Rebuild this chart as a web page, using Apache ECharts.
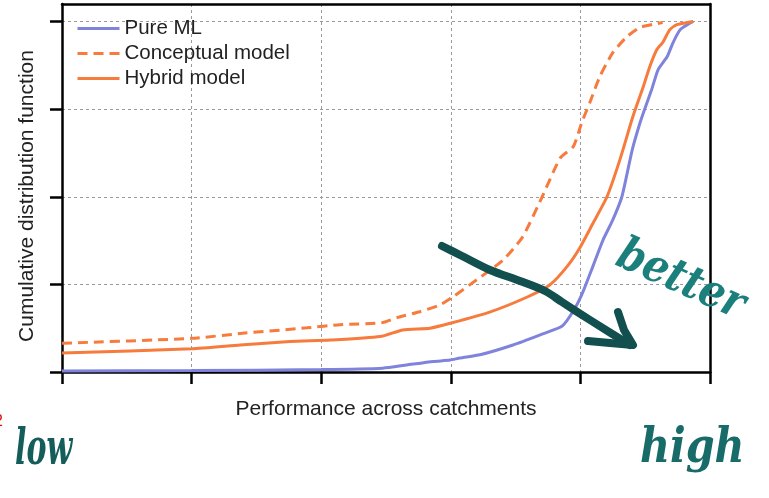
<!DOCTYPE html>
<html>
<head>
<meta charset="utf-8">
<script src="https://cdn.jsdelivr.net/npm/echarts@6/dist/echarts.min.js"></script>
<style>
  html, body { margin: 0; padding: 0; background: #fff; }
  #chart { width: 769px; height: 498px; }
</style>
</head>
<body>
<div id="chart"></div>
<script>
// Cumulative distribution of model performance across catchments
const seriesNames = ['Pure ML', 'Conceptual model', 'Hybrid model'];

const pureMlX = [0, 0.2, 0.4, 0.495, 0.532, 0.573, 0.599, 0.614, 0.645, 0.696, 0.738, 0.772, 0.789, 0.802, 0.819, 0.835, 0.85, 0.864, 0.88, 0.892, 0.899, 0.91, 0.92, 0.934, 0.943, 0.954, 0.965, 0.974];
const pureMlY = [0.003, 0.004, 0.007, 0.011, 0.02, 0.03, 0.034, 0.04, 0.049, 0.077, 0.106, 0.131, 0.174, 0.22, 0.3, 0.377, 0.434, 0.5, 0.634, 0.711, 0.749, 0.806, 0.863, 0.9, 0.94, 0.977, 0.991, 1.0];

const conceptualX = [0, 0.2, 0.282, 0.378, 0.429, 0.495, 0.517, 0.552, 0.583, 0.603, 0.64, 0.681, 0.711, 0.741, 0.769, 0.789, 0.802, 0.815, 0.83, 0.85, 0.872, 0.892, 0.918, 0.927];
const conceptualY = [0.082, 0.096, 0.111, 0.126, 0.135, 0.141, 0.155, 0.172, 0.191, 0.214, 0.263, 0.32, 0.386, 0.5, 0.611, 0.643, 0.711, 0.771, 0.843, 0.911, 0.957, 0.983, 0.994, 0.997];

const hybridX = [0, 0.2, 0.275, 0.352, 0.414, 0.491, 0.526, 0.568, 0.599, 0.66, 0.718, 0.753, 0.779, 0.799, 0.819, 0.841, 0.861, 0.881, 0.897, 0.907, 0.918, 0.927, 0.938, 0.949, 0.965, 0.974];
const hybridY = [0.054, 0.066, 0.077, 0.087, 0.091, 0.101, 0.12, 0.125, 0.139, 0.171, 0.214, 0.249, 0.3, 0.354, 0.423, 0.5, 0.606, 0.729, 0.814, 0.871, 0.92, 0.94, 0.977, 0.991, 0.997, 1.0];

const xTicks = [0, 0.2, 0.4, 0.6, 0.8, 1.0];
const yTicks = [0, 0.25, 0.5, 0.75, 1.0];
const yTop = 1.05;

const pair = (xs, ys) => xs.map((x, i) => [x, ys[i]]);

const BLUE = '#7f83dc';
const ORANGE = '#f77b3c';
const INK = '#124f4f';
const FONT = '"Liberation Sans", Arial, sans-serif';
const HAND = '"DejaVu Serif", serif';

const chart = echarts.init(document.getElementById('chart'), null, { renderer: 'canvas' });

const frameLine = { show: true, onZero: false, lineStyle: { color: '#000', width: 2.5 } };
const gridLines = { show: true, lineStyle: { color: '#9a9a9a', width: 1, type: [3, 3] } };
const nameStyle = { fontFamily: FONT, fontSize: 21, color: '#222' };

chart.setOption({
  animation: false,
  backgroundColor: '#fff',
  grid: { left: 62, right: 59, top: 4, bottom: 126 },
  legend: {
    orient: 'vertical',
    left: 71, top: 13,
    itemWidth: 42, itemHeight: 17, itemGap: 4,
    itemStyle: { opacity: 0 },
    lineStyle: { width: 3 },
    textStyle: { fontFamily: FONT, fontSize: 20.5, color: '#222' },
    data: seriesNames
  },
  xAxis: [
    {
      type: 'value', min: xTicks[0], max: xTicks[xTicks.length - 1], interval: 0.2,
      name: 'Performance across catchments', nameLocation: 'middle', nameGap: 27,
      nameTextStyle: nameStyle,
      axisLine: frameLine,
      axisTick: { show: true, length: 12, lineStyle: { color: '#000', width: 2.5 } },
      axisLabel: { show: false },
      splitLine: gridLines
    },
    {
      type: 'value', position: 'top', min: xTicks[0], max: xTicks[xTicks.length - 1],
      axisLine: frameLine, axisTick: { show: false }, axisLabel: { show: false }, splitLine: { show: false }
    }
  ],
  yAxis: [
    {
      type: 'value', min: yTicks[0], max: yTop, interval: 0.25,
      name: 'Cumulative distribution function', nameLocation: 'middle', nameGap: 24,
      nameTextStyle: Object.assign({ padding: [0, 16, 0, 0] }, nameStyle),
      axisLine: frameLine,
      axisTick: { show: true, length: 12, customValues: yTicks, lineStyle: { color: '#000', width: 2.5 } },
      axisLabel: { show: false },
      splitLine: gridLines
    },
    {
      type: 'value', position: 'right', min: yTicks[0], max: yTop,
      axisLine: frameLine, axisTick: { show: false }, axisLabel: { show: false }, splitLine: { show: false }
    }
  ],
  series: [
    {
      name: seriesNames[0], type: 'line', data: pair(pureMlX, pureMlY),
      symbol: 'none', smooth: 0.2, z: 3,
      lineStyle: { color: BLUE, width: 3 }, itemStyle: { color: BLUE }
    },
    {
      name: seriesNames[1], type: 'line', data: pair(conceptualX, conceptualY),
      symbol: 'none', smooth: 0.2, z: 3,
      lineStyle: { color: ORANGE, width: 3, type: [10, 6] }, itemStyle: { color: ORANGE }
    },
    {
      name: seriesNames[2], type: 'line', data: pair(hybridX, hybridY),
      symbol: 'none', smooth: 0.2, z: 3,
      lineStyle: { color: ORANGE, width: 3 }, itemStyle: { color: ORANGE }
    }
  ],
  graphic: [
    // hand-drawn arrow pointing towards better performance
    {
      type: 'polyline', z: 10,
      shape: { points: [[442, 246], [462, 256], [490, 270], [520, 281], [545, 291], [562, 302], [590, 320], [630, 345]], smooth: 0.3 },
      style: { stroke: INK, lineWidth: 8, lineCap: 'round', lineJoin: 'round', fill: null }
    },
    {
      type: 'polyline', z: 10,
      shape: { points: [[618, 312], [624, 330], [633, 345], [610, 343], [588, 341]] },
      style: { stroke: INK, lineWidth: 8, lineCap: 'round', lineJoin: 'round', fill: null }
    },
    {
      type: 'text', z: 10, x: 628, y: 232, rotation: -0.42, scaleX: 0.86,
      style: { text: 'better', font: 'italic bold 46px ' + HAND, fill: '#1b7f7c' }
    },
    {
      type: 'text', z: 10, x: 15, y: 426, scaleX: 0.6,
      style: { text: 'low', font: 'italic bold 50px ' + HAND, fill: '#145d5b' }
    },
    {
      type: 'text', z: 10, x: 640, y: 426, scaleX: 0.86,
      style: { text: 'high', font: 'italic bold 48px ' + HAND, fill: '#176b69' }
    },
    {
      type: 'text', z: 10, x: -6, y: 414,
      style: { text: '2', font: '16px ' + FONT, fill: '#e01010' }
    }
  ]
});
</script>
</body>
</html>
